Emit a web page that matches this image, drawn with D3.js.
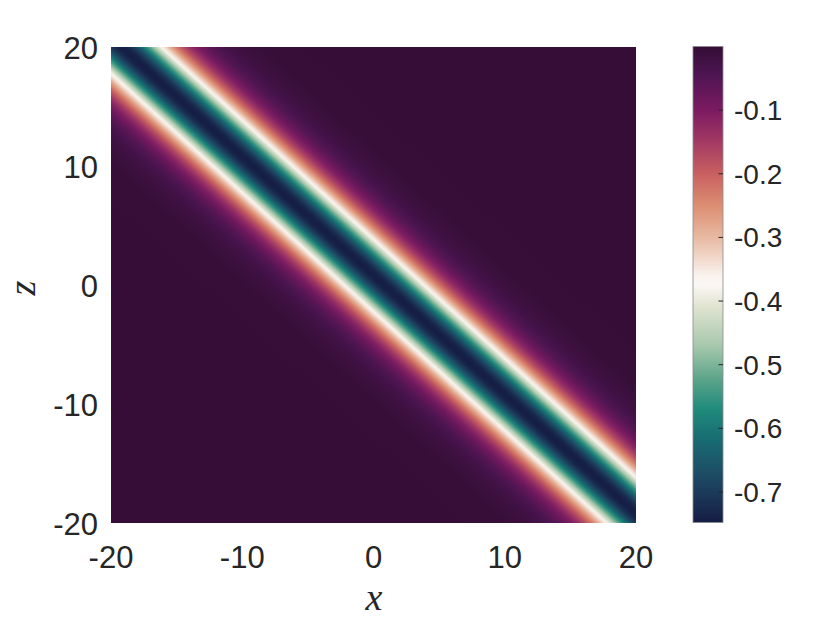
<!DOCTYPE html>
<html><head><meta charset="utf-8">
<script src="https://cdn.jsdelivr.net/npm/d3@7"></script>
<style>body{margin:0;background:#fff}</style>
</head><body>
<svg id="chart" width="830" height="623"></svg>
<script>
// ---------- data ----------
const xTicks = [-20, -10, 0, 10, 20];
const zTicks = [-20, -10, 0, 10, 20];
const cbTicks = [-0.7, -0.6, -0.5, -0.4, -0.3, -0.2, -0.1];
const cbTickLabels = ["-0.7", "-0.6", "-0.5", "-0.4", "-0.3", "-0.2", "-0.1"];
const xDomain = [-20, 20];
const zDomain = [-20, 20];
const valueDomain = [-0.748, 0];
const bandCenter = 0.8; // value of x+z along the trough of the wave
// field value across the band, as a function of offset s = (x+z) - bandCenter
const profileOffset = [-14, -12, -11, -10, -9, -8, -7.5, -7, -6.5, -6, -5.5, -5, -4.75, -4.5, -4.25, -4, -3.75, -3.5, -3.25, -3, -2.75, -2.5, -2.25, -2, -1.75, -1.5, -1, -0.5, 0,
  0.5, 1, 1.5, 1.75, 2, 2.25, 2.5, 2.75, 3, 3.25, 3.5, 3.75, 4, 4.25, 4.5, 4.75, 5, 5.5, 6, 6.5, 7, 7.5, 8, 9, 10, 11, 12, 14];
const profileValue = [-0.001, -0.003, -0.005, -0.009, -0.016, -0.028, -0.038, -0.050, -0.065, -0.087, -0.113, -0.148, -0.168, -0.191, -0.216, -0.244, -0.274, -0.307, -0.342, -0.380, -0.420, -0.460, -0.502, -0.544, -0.584, -0.623, -0.689, -0.733, -0.748,
  -0.733, -0.689, -0.623, -0.584, -0.544, -0.502, -0.460, -0.420, -0.380, -0.342, -0.307, -0.274, -0.244, -0.216, -0.191, -0.168, -0.148, -0.113, -0.087, -0.065, -0.050, -0.038, -0.028, -0.016, -0.009, -0.005, -0.003, -0.001];

// ---------- colormap (curl-like) ----------
const cmapValues = [-0.748, -0.725, -0.67, -0.62, -0.57, -0.52, -0.47, -0.41, -0.374, -0.36, -0.30, -0.25, -0.20, -0.15, -0.10, -0.04, 0];
const cmapColors = ["#151d44", "#1a2b50", "#1d4d65", "#186a72", "#1f8a7b", "#5fa68b", "#a7c8ad", "#dfe3d0", "#fcf7f5", "#f9f2ee", "#e8b9a2", "#dc8e72", "#c86060", "#a33a64", "#7c1b62", "#4a1450", "#340d35"];
const color = d3.scaleLinear().domain(cmapValues).range(cmapColors).clamp(true);

// ---------- layout ----------
const svg = d3.select("#chart");
const plot = {left: 111, right: 636, top: 47, bottom: 523};
const cb = {left: 693, right: 723, top: 46.5, bottom: 522.5};
const textColor = "#262626";
const sansFont = "'Liberation Sans', Arial, Helvetica, sans-serif";
const serifFont = "'Liberation Serif', 'Times New Roman', serif";

const xScale = d3.scaleLinear().domain(xDomain).range([plot.left, plot.right]);
const zScale = d3.scaleLinear().domain(zDomain).range([plot.bottom, plot.top]);
const cScale = d3.scaleLinear().domain(valueDomain).range([cb.bottom, cb.top]);

const defs = svg.append("defs");

// field gradient: direction perpendicular to lines x+z=const, in pixel space
const a = xScale.invert(1) - xScale.invert(0);   // d(x)/d(px)
const b = zScale.invert(1) - zScale.invert(0);   // d(z)/d(py)
const g2 = a * a + b * b;
const pc = [xScale(bandCenter), zScale(0)];
const sMin = d3.min(profileOffset), sMax = d3.max(profileOffset);
const pAt = s => [pc[0] + a * s / g2, pc[1] + b * s / g2];
const p0 = pAt(sMin), p1 = pAt(sMax);

const fieldGrad = defs.append("linearGradient")
  .attr("id", "field").attr("gradientUnits", "userSpaceOnUse")
  .attr("x1", p0[0]).attr("y1", p0[1]).attr("x2", p1[0]).attr("y2", p1[1]);
fieldGrad.selectAll("stop").data(profileOffset.map((s, i) => ({s, v: profileValue[i]})))
  .join("stop")
  .attr("offset", d => (d.s - sMin) / (sMax - sMin))
  .attr("stop-color", d => color(d.v));

svg.append("rect")
  .attr("x", plot.left).attr("y", plot.top)
  .attr("width", plot.right - plot.left).attr("height", plot.bottom - plot.top)
  .attr("fill", "url(#field)");

// axes tick labels
svg.append("g").selectAll("text").data(xTicks).join("text")
  .attr("x", d => xScale(d)).attr("y", 568)
  .attr("text-anchor", "middle")
  .attr("font-family", sansFont).attr("font-size", 31).attr("fill", textColor)
  .text(d => d);

svg.append("g").selectAll("text").data(zTicks).join("text")
  .attr("x", 98).attr("y", d => zScale(d) + 11.5)
  .attr("text-anchor", "end")
  .attr("font-family", sansFont).attr("font-size", 31).attr("fill", textColor)
  .text(d => d);

// axis labels
svg.append("text").attr("x", 374).attr("y", 610)
  .attr("text-anchor", "middle").attr("font-family", serifFont)
  .attr("font-style", "italic").attr("font-size", 38).attr("fill", textColor)
  .text("x");
svg.append("text").attr("transform", "translate(35,288) rotate(-90)")
  .attr("text-anchor", "middle").attr("font-family", serifFont)
  .attr("font-style", "italic").attr("font-size", 38).attr("fill", textColor)
  .text("z");

// colorbar
const cbGrad = defs.append("linearGradient").attr("id", "cbgrad")
  .attr("gradientUnits", "userSpaceOnUse")
  .attr("x1", 0).attr("y1", cScale(valueDomain[0])).attr("x2", 0).attr("y2", cScale(valueDomain[1]));
cbGrad.selectAll("stop").data(cmapValues).join("stop")
  .attr("offset", v => (v - valueDomain[0]) / (valueDomain[1] - valueDomain[0]))
  .attr("stop-color", v => color(v));

svg.append("rect")
  .attr("x", cb.left).attr("y", cb.top)
  .attr("width", cb.right - cb.left).attr("height", cb.bottom - cb.top)
  .attr("fill", "url(#cbgrad)")
  .attr("stroke", "#8a8a8a").attr("stroke-width", 0.8);

svg.append("g").selectAll("line").data(cbTicks).join("line")
  .attr("x1", cb.right - 4.5).attr("x2", cb.right)
  .attr("y1", d => cScale(d)).attr("y2", d => cScale(d))
  .attr("stroke", "#262626").attr("stroke-width", 1);

svg.append("g").selectAll("text").data(cbTicks).join("text")
  .attr("x", 734).attr("y", d => cScale(d) + 10)
  .attr("font-family", sansFont).attr("font-size", 28).attr("fill", textColor)
  .text((d, i) => cbTickLabels[i]);
</script>
</body></html>
